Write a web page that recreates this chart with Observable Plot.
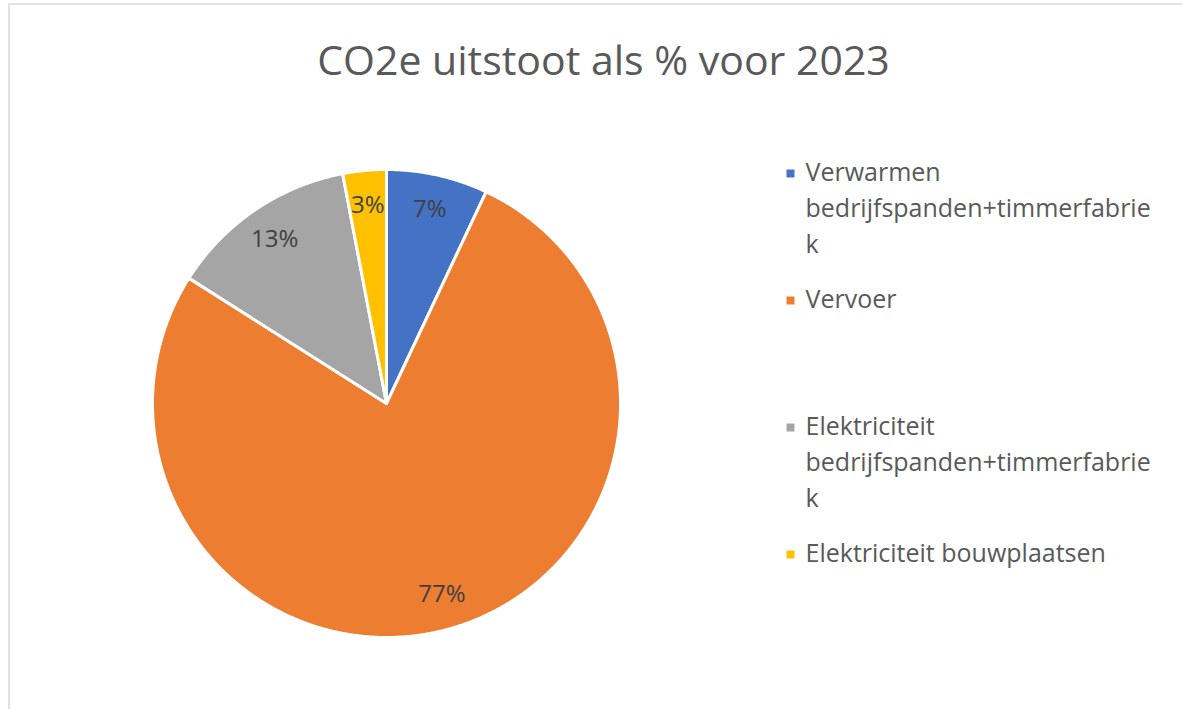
<!DOCTYPE html>
<html><head><meta charset="utf-8">
<script src="https://cdn.jsdelivr.net/npm/d3@7"></script>
<script src="https://cdn.jsdelivr.net/npm/@observablehq/plot@0.6"></script>
<style>
body{margin:0;background:#fff;}
#frame{position:absolute;left:8px;top:3px;right:0;bottom:0;border-top:2px solid #e2e2e2;border-left:2px solid #e2e2e2;pointer-events:none}
</style>
</head><body><div id="chart"></div><div id="frame"></div>
<script>
const title = "CO2e uitstoot als % voor 2023";
const categories = ["Verwarmen bedrijfspanden+timmerfabriek", "Vervoer", "Elektriciteit bedrijfspanden+timmerfabriek", "Elektriciteit bouwplaatsen"];
const legendLabels = ["Verwarmen\nbedrijfspanden+timmerfabrie\nk", "Vervoer", "Elektriciteit\nbedrijfspanden+timmerfabrie\nk", "Elektriciteit bouwplaatsen"];
const values = [7, 77, 13, 3];
const pctLabels = ["7%", "77%", "13%", "3%"];
const colors = ["#4472C4", "#ED7D31", "#A5A5A5", "#FFC000"];

// layout (pixels)
const W = 1182, H = 709, cx = 386, cy = 403, R = 234;
const px = p => (p - cx) / R;
const py = p => (cy - p) / R;

const arcs = d3.pie().sort(null).startAngle(0).endAngle(2 * Math.PI)(values);
const slicePts = [];
arcs.forEach((a, i) => {
  const cat = categories[i];
  slicePts.push({cat, x: 0, y: 0});
  const n = Math.max(2, Math.ceil((a.endAngle - a.startAngle) / 0.005));
  for (let k = 0; k <= n; k++) {
    const t = a.startAngle + (a.endAngle - a.startAngle) * k / n;
    slicePts.push({cat, x: Math.sin(t), y: Math.cos(t)});
  }
  slicePts.push({cat, x: 0, y: 0});
});
const labelR = 0.85;
const labelData = arcs.map((a, i) => {
  const m = (a.startAngle + a.endAngle) / 2;
  return {label: pctLabels[i], x: labelR * Math.sin(m), y: labelR * Math.cos(m)};
});

const legendTop = 172, legendStep = 127, legendLine = 36;
const legendMarks = categories.map((c, i) => ({cat: c, x: px(790), y: py(legendTop + i * legendStep + 1)}));
const legendLines = [];
legendLabels.forEach((l, i) => l.split("\n").forEach((s, j) =>
  legendLines.push({text: s, x: px(805), y: py(legendTop + i * legendStep + j * legendLine)})));

const chart = Plot.plot({
  width: W, height: H,
  marginTop: 0, marginRight: 0, marginBottom: 0, marginLeft: 0,
  x: {domain: [px(0), px(W)], axis: null},
  y: {domain: [py(H), py(0)], axis: null},
  color: {domain: categories, range: colors},
  style: {fontFamily: "'Open Sans', sans-serif", background: "#fff"},
  marks: [
    Plot.line(slicePts, {x: "x", y: "y", z: "cat", fill: "cat", stroke: "#fff", strokeWidth: 3, strokeLinejoin: "round", curve: "linear"}),
    Plot.text(labelData, {x: "x", y: "y", text: "label", fontSize: 24, fill: "#404040"}),
    Plot.text([title], {x: px(603), y: py(61), text: d => d, fontSize: 41, fill: "#595959"}),
    Plot.dot(legendMarks, {x: "x", y: "y", fill: "cat", symbol: "square", r: 4.5}),
    Plot.text(legendLines, {x: "x", y: "y", text: "text", textAnchor: "start", fontSize: 25, fill: "#595959"})
  ]
});
document.getElementById("chart").append(chart);
</script>
</body></html>
